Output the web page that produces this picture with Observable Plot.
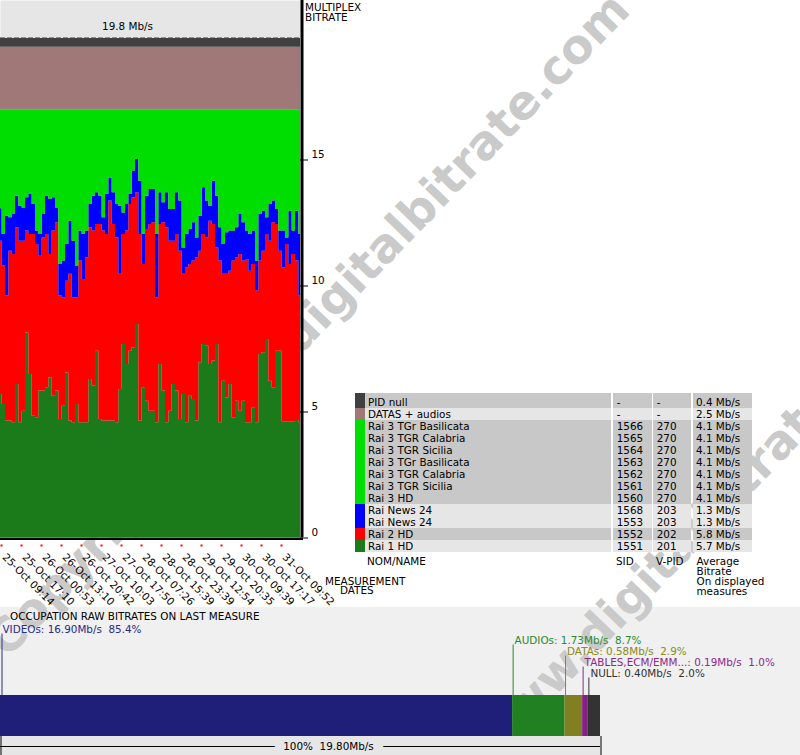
<!DOCTYPE html>
<html><head><meta charset="utf-8">
<script src="https://cdn.jsdelivr.net/npm/d3@7"></script>
<script src="https://cdn.jsdelivr.net/npm/@observablehq/plot@0.6"></script>
<style>
html,body{margin:0;padding:0;background:#fff;}
body{width:800px;height:755px;position:relative;overflow:hidden;font-family:"DejaVu Sans",Verdana,sans-serif;font-size:10.4px;color:#000;}
.abs{position:absolute;}
svg text{white-space:pre;}
.cell{position:absolute;box-sizing:border-box;height:12px;line-height:12px;white-space:nowrap;overflow:hidden;}
.hdr{position:absolute;line-height:10px;white-space:nowrap;}
</style></head><body>
<div id="panel" class="abs" style="left:0;top:607px;width:800px;height:148px;background:#f0f0f0"></div>
<svg id="wm" class="abs" width="800" height="755" style="left:0;top:0"></svg>
<div id="main" class="abs" style="left:0;top:0"></div>
<div id="bottom" class="abs" style="left:0;top:607px"></div>
<div id="legend" class="abs" style="left:0;top:0"></div>
<div class="hdr" style="left:305px;top:1.5px">MULTIPLEX<br>BITRATE</div>
<div class="abs" style="left:325px;top:577px;line-height:9px;white-space:nowrap">MEASUREMENT<br><span style="padding-left:15px">DATES</span></div>
<div class="abs" style="left:10px;top:610px;line-height:12px;white-space:nowrap">OCCUPATION RAW BITRATES ON LAST MEASURE</div>
<script>
// ---------- DATA ----------
// cumulative boundaries of the stacked multiplex chart (Mb/s), one value per measurement column
const rai1Top = [5.67,5.28,4.62,4.62,4.55,6.07,4.55,5.01,8.12,6.47,
 4.81,4.75,5.81,5.81,5.94,6.34,5.61,5.81,4.68,5.21,
 6.53,4.62,4.55,5.28,4.55,4.55,4.55,6.27,6.01,7.39,
 4.68,4.62,4.62,4.62,4.62,4.55,5.87,7.66,6.87,7.39,
 7.53,8.45,4.62,5.94,5.41,5.01,5.01,4.55,6.87,5.81,
 4.55,5.01,6.07,5.81,4.68,5.67,4.55,5.61,5.48,4.62,
 6.93,7.66,7.59,6.87,7.00,7.66,4.55,6.20,5.54,6.07,
 4.75,5.41,5.01,5.41,4.55,4.55,5.15,4.55,7.26,7.33,
 7.86,6.20,5.94,7.39,7.39,4.59,4.59,4.59,4.59,4.64,4.55];
const rai2Top = [11.76,10.77,9.58,11.36,11.23,12.29,11.76,11.76,12.16,12.02,
 12.02,11.63,11.16,11.89,12.02,11.23,12.16,12.49,9.58,9.51,
 10.17,10.45,9.51,9.51,10.97,10.24,11.10,12.29,12.16,12.42,
 12.42,12.16,12.02,13.35,12.42,11.89,10.45,12.02,12.16,13.21,
 13.48,13.68,12.02,10.83,12.22,12.42,12.49,9.51,12.42,12.49,
 12.29,11.76,11.76,12.02,11.36,10.45,10.70,10.83,10.97,11.10,
 11.36,12.02,11.89,12.55,12.42,11.49,10.97,10.45,10.45,10.57,
 10.97,11.10,11.23,10.97,11.03,10.57,10.83,9.78,10.97,11.36,
 12.02,11.76,12.49,12.42,11.36,10.70,11.63,10.83,11.23,10.97,9.58];
const newsTop = [13.05,12.02,12.75,12.69,12.82,13.54,13.15,13.08,13.48,13.61,
 13.21,12.16,12.02,12.82,13.54,13.41,13.48,13.08,10.83,10.97,
 11.63,12.55,11.76,10.77,12.16,12.02,12.16,13.21,13.54,13.68,
 13.54,12.69,13.61,14.27,13.68,13.21,13.15,12.88,13.21,13.61,
 14.54,15.00,14.14,12.02,13.54,13.81,13.81,12.02,13.68,13.28,
 13.68,13.02,13.02,13.68,13.35,11.49,12.02,12.22,12.49,11.89,
 12.75,13.88,13.35,13.15,14.14,13.54,12.29,11.63,12.09,12.16,
 12.16,12.29,12.82,12.49,12.16,12.02,12.16,10.97,12.82,12.95,
 12.69,13.21,13.35,13.02,12.16,12.16,11.89,12.95,12.16,12.95,12.02];
const rai3Top = 16.95;     // top of the Rai 3 (all regions) layer
const datasTop = 19.45;    // top of DATAS + audios
const totalTop = 19.8;     // multiplex total (PID null on top)
const totalLabel = "19.8 Mb/s";
const yTicks = [0, 5, 10, 15];
const yMax = 21.31;

const dateTickIdx = [0,6,12,18,24,30,36,42,48,54,60,66,72,78,84];
const dateLabels = ["25-Oct 09:14","25-Oct 17:10","26-Oct 00:53","26-Oct 13:10","26-Oct 20:42",
 "27-Oct 10:03","27-Oct 17:50","28-Oct 07:26","28-Oct 15:39","28-Oct 23:39","29-Oct 12:54",
 "29-Oct 20:35","30-Oct 09:39","30-Oct 17:17","31-Oct 09:52"];

// legend table
const legendNames = ["PID null","DATAS + audios","Rai 3 TGr Basilicata","Rai 3 TGR Calabria","Rai 3 TGR Sicilia",
 "Rai 3 TGr Basilicata","Rai 3 TGR Calabria","Rai 3 TGR Sicilia","Rai 3 HD","Rai News 24","Rai News 24","Rai 2 HD","Rai 1 HD"];
const legendSid = ["-","-","1566","1565","1564","1563","1562","1561","1560","1568","1553","1552","1551"];
const legendVpid = ["-","-","270","270","270","270","270","270","270","203","203","202","201"];
const legendAvg = [0.4,2.5,4.1,4.1,4.1,4.1,4.1,4.1,4.1,1.3,1.3,5.8,5.7];
const legendGroup = ["null","datas","rai3","rai3","rai3","rai3","rai3","rai3","rai3","news","news","rai2","rai1"];
const groupColor = {null:"#404040", datas:"#a07878", rai3:"#00dd00", news:"#0000ff", rai2:"#ff0000", rai1:"#1b7b1b"};

// last-measure occupation bar
const segNames = ["VIDEOs","AUDIOs","DATAs","TABLES,ECM/EMM...","NULL"];
const segMbps = [16.90,1.73,0.58,0.19,0.40];
const segPct = [85.4,8.7,2.9,1.0,2.0];
const segFill = ["#1f1f7a","#218021","#808022","#862086","#333333"];
const segInk = ["#2a2a8c","#2a8a2a","#8a8a22","#8a2a8a","#333333"];
const occTotal = 19.80;
const occTotalLabel = "100%\u00a0 19.80Mb/s";

// ---------- WATERMARK ----------
const wm = d3.select("#wm");
[["Copyright www.digitalbitrate.com", 632, 12, "end"], ["www.digitalbitrate.com", 494, 760, "start"]].forEach(([t, x, y, a]) => {
  wm.append("text").attr("transform", `translate(${x},${y}) rotate(-46)`).attr("text-anchor", a)
    .attr("font-family", "DejaVu Sans").attr("font-weight", "bold").attr("font-size", 47).attr("fill", "#cacaca").text(t);
});

// ---------- MAIN CHART ----------
const rows = rai1Top.map((v, i) => ({i, rai1: v, rai2: rai2Top[i], news: newsTop[i]}));
const layers = [
  {lo: d => 0, hi: d => d.rai1, color: groupColor.rai1},
  {lo: d => d.rai1, hi: d => d.rai2, color: groupColor.rai2},
  {lo: d => d.rai2, hi: d => d.news, color: groupColor.news},
  {lo: d => d.news, hi: d => rai3Top, color: groupColor.rai3},
  {lo: d => rai3Top, hi: d => datasTop, color: groupColor.datas},
  {lo: d => datasTop, hi: d => totalTop, color: groupColor.null}
];
const xMax = rai1Top.length - 1;
const dateTicks = dateTickIdx.map((i, k) => ({i, label: dateLabels[k]}));

const main = Plot.plot({
  width: 360, height: 610,
  marginLeft: 0, marginRight: 60, marginTop: 0, marginBottom: 73,
  x: {domain: [0, xMax], axis: null},
  y: {domain: [0, yMax], axis: null},
  style: {background: "transparent", fontFamily: "DejaVu Sans", fontSize: "10.4px", color: "black", overflow: "visible"},
  marks: [
    Plot.frame({fill: "#e6e6e6", stroke: "none"}),
    ...layers.map(l => Plot.areaY(rows, {x: "i", y1: l.lo, y2: l.hi, fill: l.color, curve: "step"})),
    Plot.ruleY([totalTop], {stroke: "#8a8a8a", strokeDasharray: "5,2", dy: -1}),
    Plot.text([totalLabel], {y: totalTop, text: d => d, dy: -12, dx: -23, fill: "black"}),
    Plot.ruleX([xMax], {stroke: "black", strokeWidth: 3, dx: 1.5}),
    Plot.ruleY([0], {stroke: "black", strokeWidth: 2.5, dy: 1.25, insetRight: -3}),
    Plot.ruleY(yTicks, {y: d => d, x1: xMax, x2: xMax, insetRight: -8, stroke: "black", dy: 0.5}),
    Plot.text(yTicks, {x: xMax, y: d => d, text: d => String(d), textAnchor: "start", dx: 11, dy: -5, fill: "black"}),
    Plot.dot(dateTicks, {x: "i", y: 0, symbol: "square", r: 1.13, fill: "red", stroke: "none", dx: 1, dy: 8}),
    Plot.text(dateTicks, {x: "i", y: 0, text: "label", rotate: 45, textAnchor: "start", lineAnchor: "top", dx: 6.5, dy: 15, fill: "black"})
  ]
});
document.getElementById("main").appendChild(main);

// ---------- LEGEND TABLE ----------
const leg = document.getElementById("legend");
let shade = 0, prev = null;
legendNames.forEach((name, i) => {
  if (prev !== null && legendGroup[i] !== prev) shade = 1 - shade;
  prev = legendGroup[i];
  const bg = shade ? "#e6e6e6" : "#c8c8c8";
  const top = i === 0 ? 393.3 : 395.8 + 12 * i;
  const h = i === 0 ? 14.5 : 12;
  const pad = i === 0 ? 2.5 : 0;
  const cells = [
    [355, 10, "", groupColor[legendGroup[i]], 0],
    [365, 246, name, bg, 3],
    [613.3, 38.4, legendSid[i], bg, 3.4],
    [653.3, 37.4, legendVpid[i], bg, 3.4],
    [693.3, 58.4, legendAvg[i].toFixed(1) + " Mb/s", bg, 2.7]
  ];
  cells.forEach(([x, w, t, c, p]) => {
    const d = document.createElement("div");
    d.className = "cell";
    d.style.cssText = `left:${x}px;top:${top}px;width:${w}px;height:${h}px;padding-top:${pad}px;padding-left:${p}px;background:${c}`;
    d.textContent = t;
    leg.appendChild(d);
  });
});
[[367, "NOM/NAME"], [616, "SID"], [656, "V-PID"], [696.5, "Average<br>Bitrate<br>On displayed<br>measures"]].forEach(([x, t]) => {
  const d = document.createElement("div");
  d.className = "hdr";
  d.style.cssText = `left:${x}px;top:556px`;
  d.innerHTML = t;
  leg.appendChild(d);
});

// ---------- OCCUPATION BAR ----------
const ends = d3.cumsum(segMbps);
const segs = segNames.map((n, k) => ({
  name: n, start: ends[k] - segMbps[k], end: ends[k], fill: segFill[k], ink: segInk[k],
  label: `${n}: ${segMbps[k].toFixed(2)}Mb/s\u00a0 ${segPct[k].toFixed(1)}%`
}));
const bottom = Plot.plot({
  width: 800, height: 148,
  marginLeft: 0, marginRight: 200, marginTop: 88, marginBottom: 19,
  x: {domain: [0, occTotal], axis: null},
  y: {domain: ["bar"], axis: null, padding: 0},
  style: {background: "transparent", fontFamily: "DejaVu Sans", fontSize: "10.4px", color: "black", overflow: "visible"},
  marks: [
    Plot.barX([occTotal], {x1: 0, x2: d => d, y: () => "bar", fill: "#e6e6e6", insetTop: 41, insetBottom: -19}),
    Plot.ruleY(["bar"], {y: d => d, x1: 0, x2: occTotal, stroke: "black", dy: 30.5}),
    Plot.tickX([0, occTotal], {x: d => d, y: () => "bar", insetTop: 41, insetBottom: -19, stroke: "black", dx: 0.5}),
    Plot.text([occTotalLabel], {x: occTotal / 2, y: () => "bar", text: d => d, dy: 30.5, dx: 28, fill: "black", stroke: "#e6e6e6", strokeWidth: 20}),
    Plot.barX(segs, {x1: "start", x2: "end", y: () => "bar", fill: "fill"}),
    ...segs.map((s, k) => Plot.tickX([s], {x: "start", y: () => "bar", stroke: s.ink, insetTop: -(61.5 - 11 * k), insetBottom: 41, dx: k === 0 ? 1.5 : 0.5})),
    ...segs.map((s, k) => Plot.text([s], {x: "start", y: () => "bar", text: "label", textAnchor: "start", fill: s.ink, dx: 2, dy: -86 + 11 * k}))
  ]
});
document.getElementById("bottom").appendChild(bottom);
</script>
</body></html>
